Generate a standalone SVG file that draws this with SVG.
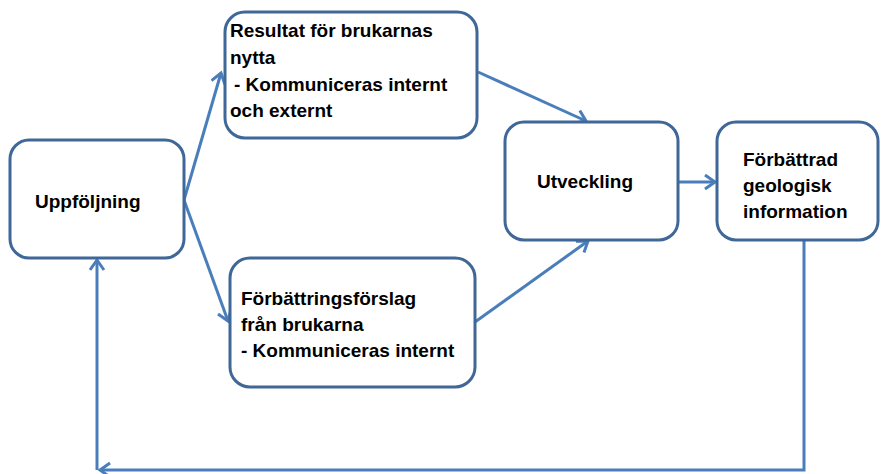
<svg xmlns="http://www.w3.org/2000/svg" width="881" height="474" viewBox="0 0 881 474">
<style>
.box{fill:#fff;stroke:#3F6797;stroke-width:3}
.t{font-family:"Liberation Sans",Arial,sans-serif;font-weight:bold;font-size:19px;fill:#000}
.c{fill:none;stroke:#4A7EBB;stroke-width:3}
</style>
<defs>
<marker id="ah" markerUnits="userSpaceOnUse" markerWidth="20" markerHeight="20" refX="11" refY="8" orient="auto">
<path d="M1,1 L11,8 L1,15" fill="none" stroke="#4A7EBB" stroke-width="3"/>
</marker>
</defs>
<rect width="881" height="474" fill="#fff"/>
<g id="connectors">
<path class="c" d="M184,200 L221,73" marker-end="url(#ah)"/>
<path class="c" d="M184,200 L228,321" marker-end="url(#ah)"/>
<path class="c" d="M478,72 L586,121" marker-end="url(#ah)"/>
<path class="c" d="M475,322 L588,241" marker-end="url(#ah)"/>
<path class="c" d="M678,182 L715,182" marker-end="url(#ah)"/>
<path class="c" d="M804,240 V470 H100" marker-end="url(#ah)"/>
<path class="c" d="M97,470 V260" marker-end="url(#ah)"/>
</g>
<g id="uppfoljning">
<rect class="box" x="10" y="140" width="174" height="118" rx="19"/>
<text class="t" x="35" y="208">Uppföljning</text>
</g>
<g id="resultat">
<rect class="box" x="225" y="12" width="252" height="126" rx="20"/>
<text class="t" x="230" y="37">Resultat för brukarnas</text>
<text class="t" x="230" y="64">nytta</text>
<text class="t" x="234" y="91">- Kommuniceras internt</text>
<text class="t" x="230" y="117">och externt</text>
</g>
<g id="forbattringsforslag">
<rect class="box" x="230" y="258" width="245" height="129" rx="20"/>
<text class="t" x="241" y="305">Förbättringsförslag</text>
<text class="t" x="241" y="331">från brukarna</text>
<text class="t" x="241" y="357">- Kommuniceras internt</text>
</g>
<g id="utveckling">
<rect class="box" x="505" y="122" width="173" height="118" rx="19"/>
<text class="t" x="537" y="188">Utveckling</text>
</g>
<g id="forbattrad">
<rect class="box" x="717" y="122" width="161" height="118" rx="19"/>
<text class="t" x="743" y="166">Förbättrad</text>
<text class="t" x="743" y="192">geologisk</text>
<text class="t" x="743" y="218">information</text>
</g>
</svg>
